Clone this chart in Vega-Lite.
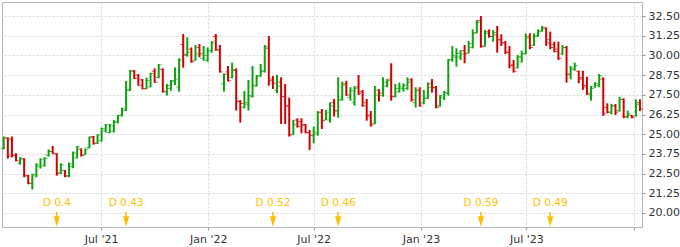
{
  "$schema": "https://vega.github.io/schema/vega-lite/v6.json",
  "width": 640,
  "height": 225,
  "autosize": {"type": "none"},
  "padding": {"left": 2, "top": 2, "right": 38, "bottom": 20},
  "background": "white",
  "config": {
    "font": "DejaVu Sans",
    "view": {"stroke": "#b4b4b4", "strokeWidth": 1},
    "axis": {
      "labelFont": "DejaVu Sans",
      "labelFontSize": 11,
      "labelColor": "#333333",
      "gridColor": "#d6d6d6",
      "gridDash": [2, 2],
      "domain": false,
      "tickColor": "#9a9a9a",
      "tickSize": 3,
      "title": null,
      "labelOverlap": false
    }
  },
  "datasets": {
    "ohlc": [
      {"d":"2021-01-15","o":24.1,"h":24.85,"l":24.04,"c":24.8},
      {"d":"2021-01-22","o":24.75,"h":24.8,"l":23.45,"c":23.6},
      {"d":"2021-01-29","o":24.7,"h":24.85,"l":23.54,"c":23.65},
      {"d":"2021-02-05","o":23.68,"h":23.79,"l":23.28,"c":23.32},
      {"d":"2021-02-12","o":23.15,"h":23.54,"l":23.07,"c":23.45},
      {"d":"2021-02-19","o":23.43,"h":23.47,"l":22.27,"c":22.35},
      {"d":"2021-02-26","o":22.37,"h":22.42,"l":21.82,"c":21.89},
      {"d":"2021-03-05","o":21.89,"h":22.48,"l":21.49,"c":22.46},
      {"d":"2021-03-12","o":22.35,"h":23.16,"l":22.27,"c":23.05},
      {"d":"2021-03-19","o":22.94,"h":23.47,"l":22.82,"c":23.41},
      {"d":"2021-03-26","o":23.0,"h":23.54,"l":22.94,"c":23.47},
      {"d":"2021-04-02","o":23.66,"h":24.04,"l":23.58,"c":23.9},
      {"d":"2021-04-09","o":23.9,"h":24.25,"l":23.75,"c":23.79},
      {"d":"2021-04-16","o":23.75,"h":23.79,"l":22.37,"c":22.52},
      {"d":"2021-04-23","o":22.55,"h":23.16,"l":22.48,"c":23.05},
      {"d":"2021-04-30","o":22.7,"h":22.73,"l":22.27,"c":22.35},
      {"d":"2021-05-07","o":22.35,"h":23.2,"l":22.27,"c":23.1},
      {"d":"2021-05-14","o":22.95,"h":23.9,"l":22.84,"c":23.8},
      {"d":"2021-05-21","o":23.5,"h":24.25,"l":23.47,"c":24.2},
      {"d":"2021-05-28","o":24.05,"h":24.1,"l":23.58,"c":23.65},
      {"d":"2021-06-04","o":23.7,"h":24.1,"l":23.68,"c":24.05},
      {"d":"2021-06-11","o":24.15,"h":24.85,"l":24.1,"c":24.8},
      {"d":"2021-06-18","o":24.85,"h":24.89,"l":24.34,"c":24.4},
      {"d":"2021-06-25","o":24.45,"h":24.99,"l":24.38,"c":24.95},
      {"d":"2021-07-02","o":24.6,"h":25.42,"l":24.53,"c":25.35},
      {"d":"2021-07-09","o":25.2,"h":25.65,"l":25.12,"c":25.6},
      {"d":"2021-07-16","o":25.1,"h":25.65,"l":25.06,"c":25.55},
      {"d":"2021-07-23","o":25.2,"h":25.9,"l":25.1,"c":25.8},
      {"d":"2021-07-30","o":25.75,"h":26.22,"l":25.69,"c":26.2},
      {"d":"2021-08-06","o":26.2,"h":26.69,"l":26.12,"c":26.6},
      {"d":"2021-08-13","o":26.5,"h":28.38,"l":26.47,"c":27.8},
      {"d":"2021-08-20","o":27.8,"h":29.08,"l":27.74,"c":29.0},
      {"d":"2021-08-27","o":29.0,"h":29.08,"l":28.5,"c":28.55},
      {"d":"2021-09-03","o":28.75,"h":28.82,"l":28.08,"c":28.1},
      {"d":"2021-09-10","o":28.45,"h":28.5,"l":27.85,"c":27.88},
      {"d":"2021-09-17","o":27.9,"h":28.59,"l":27.85,"c":28.4},
      {"d":"2021-09-24","o":28.0,"h":28.9,"l":27.98,"c":28.85},
      {"d":"2021-10-01","o":29.0,"h":29.18,"l":28.27,"c":28.3},
      {"d":"2021-10-08","o":28.6,"h":29.46,"l":28.55,"c":29.4},
      {"d":"2021-10-15","o":29.1,"h":29.18,"l":27.64,"c":27.7},
      {"d":"2021-10-22","o":27.7,"h":28.19,"l":27.45,"c":28.1},
      {"d":"2021-10-29","o":27.9,"h":28.44,"l":27.76,"c":28.4},
      {"d":"2021-11-05","o":28.35,"h":29.24,"l":28.12,"c":28.5},
      {"d":"2021-11-12","o":28.0,"h":29.82,"l":27.7,"c":29.7},
      {"d":"2021-11-19","o":30.7,"h":31.36,"l":29.22,"c":30.07},
      {"d":"2021-11-26","o":30.0,"h":31.15,"l":29.92,"c":30.2},
      {"d":"2021-12-03","o":30.4,"h":30.51,"l":29.54,"c":29.6},
      {"d":"2021-12-10","o":29.7,"h":30.66,"l":29.67,"c":30.1},
      {"d":"2021-12-17","o":30.5,"h":30.72,"l":29.88,"c":30.1},
      {"d":"2021-12-24","o":29.8,"h":30.6,"l":29.67,"c":30.0},
      {"d":"2021-12-31","o":29.7,"h":30.51,"l":29.6,"c":30.3},
      {"d":"2022-01-07","o":30.3,"h":30.91,"l":30.17,"c":30.8},
      {"d":"2022-01-14","o":31.2,"h":31.36,"l":30.3,"c":30.35},
      {"d":"2022-01-21","o":30.35,"h":30.66,"l":28.91,"c":28.95},
      {"d":"2022-01-28","o":28.2,"h":28.86,"l":27.7,"c":28.8},
      {"d":"2022-02-04","o":28.95,"h":29.33,"l":28.34,"c":28.4},
      {"d":"2022-02-11","o":28.6,"h":29.54,"l":28.55,"c":29.1},
      {"d":"2022-02-18","o":29.05,"h":29.18,"l":26.5,"c":27.07},
      {"d":"2022-02-25","o":27.1,"h":27.17,"l":25.73,"c":26.95},
      {"d":"2022-03-04","o":26.7,"h":27.74,"l":26.64,"c":27.0},
      {"d":"2022-03-11","o":26.9,"h":28.44,"l":26.5,"c":27.45},
      {"d":"2022-03-18","o":27.4,"h":29.33,"l":27.32,"c":28.12},
      {"d":"2022-03-25","o":28.05,"h":28.76,"l":28.02,"c":28.7},
      {"d":"2022-04-01","o":28.7,"h":29.46,"l":28.65,"c":29.01},
      {"d":"2022-04-08","o":29.0,"h":30.66,"l":28.91,"c":30.55},
      {"d":"2022-04-15","o":30.45,"h":31.23,"l":28.08,"c":28.4},
      {"d":"2022-04-22","o":28.5,"h":28.69,"l":27.87,"c":28.23},
      {"d":"2022-04-29","o":27.8,"h":28.76,"l":27.6,"c":28.05},
      {"d":"2022-05-06","o":28.3,"h":28.61,"l":25.65,"c":27.38},
      {"d":"2022-05-13","o":27.4,"h":28.19,"l":25.65,"c":26.79},
      {"d":"2022-05-20","o":26.8,"h":27.32,"l":24.85,"c":24.95},
      {"d":"2022-05-27","o":25.0,"h":25.9,"l":24.95,"c":25.6},
      {"d":"2022-06-03","o":25.9,"h":26.01,"l":25.42,"c":25.5},
      {"d":"2022-06-10","o":25.8,"h":26.01,"l":25.06,"c":25.59},
      {"d":"2022-06-17","o":25.6,"h":25.65,"l":25.06,"c":25.1},
      {"d":"2022-06-24","o":25.1,"h":25.27,"l":24.0,"c":24.95},
      {"d":"2022-07-01","o":24.9,"h":25.48,"l":24.42,"c":25.12},
      {"d":"2022-07-08","o":25.0,"h":26.47,"l":24.91,"c":26.37},
      {"d":"2022-07-15","o":26.4,"h":26.6,"l":25.33,"c":25.86},
      {"d":"2022-07-22","o":25.9,"h":26.54,"l":25.9,"c":26.4},
      {"d":"2022-07-29","o":25.9,"h":27.02,"l":25.73,"c":26.79},
      {"d":"2022-08-05","o":27.0,"h":27.24,"l":26.12,"c":26.47},
      {"d":"2022-08-12","o":26.5,"h":28.61,"l":26.05,"c":27.17},
      {"d":"2022-08-19","o":27.2,"h":28.34,"l":27.13,"c":28.12},
      {"d":"2022-08-26","o":28.2,"h":28.38,"l":27.43,"c":27.49},
      {"d":"2022-09-02","o":27.34,"h":27.98,"l":27.13,"c":27.76},
      {"d":"2022-09-09","o":27.0,"h":28.06,"l":26.81,"c":27.91},
      {"d":"2022-09-16","o":28.0,"h":28.76,"l":27.49,"c":27.6},
      {"d":"2022-09-23","o":27.7,"h":27.81,"l":26.75,"c":26.79},
      {"d":"2022-09-30","o":27.0,"h":27.24,"l":25.86,"c":26.16},
      {"d":"2022-10-07","o":26.2,"h":26.47,"l":25.48,"c":25.59},
      {"d":"2022-10-14","o":25.7,"h":28.06,"l":25.63,"c":27.49},
      {"d":"2022-10-21","o":27.8,"h":27.85,"l":27.07,"c":27.6},
      {"d":"2022-10-28","o":27.45,"h":28.61,"l":27.38,"c":28.3},
      {"d":"2022-11-04","o":28.05,"h":28.5,"l":27.98,"c":28.4},
      {"d":"2022-11-11","o":28.5,"h":29.5,"l":27.13,"c":27.38},
      {"d":"2022-11-18","o":27.4,"h":28.19,"l":27.34,"c":27.9},
      {"d":"2022-11-25","o":27.7,"h":28.27,"l":27.64,"c":28.0},
      {"d":"2022-12-02","o":27.9,"h":28.23,"l":27.7,"c":28.1},
      {"d":"2022-12-09","o":27.9,"h":28.61,"l":27.81,"c":28.3},
      {"d":"2022-12-16","o":28.45,"h":28.55,"l":27.07,"c":27.17},
      {"d":"2022-12-23","o":27.0,"h":27.98,"l":26.69,"c":27.76},
      {"d":"2022-12-30","o":27.8,"h":27.98,"l":26.75,"c":26.8},
      {"d":"2023-01-06","o":27.0,"h":27.81,"l":26.9,"c":27.28},
      {"d":"2023-01-13","o":27.3,"h":28.29,"l":27.24,"c":27.98},
      {"d":"2023-01-20","o":28.2,"h":28.5,"l":27.64,"c":27.95},
      {"d":"2023-01-27","o":27.95,"h":28.06,"l":26.64,"c":26.7},
      {"d":"2023-02-03","o":26.8,"h":27.49,"l":26.75,"c":27.43},
      {"d":"2023-02-10","o":27.3,"h":27.74,"l":27.17,"c":27.64},
      {"d":"2023-02-17","o":27.6,"h":29.77,"l":27.45,"c":29.7},
      {"d":"2023-02-24","o":29.75,"h":30.6,"l":29.6,"c":30.0},
      {"d":"2023-03-03","o":29.9,"h":30.45,"l":29.29,"c":30.13},
      {"d":"2023-03-10","o":29.9,"h":30.34,"l":29.71,"c":30.09},
      {"d":"2023-03-17","o":30.3,"h":30.66,"l":29.5,"c":30.1},
      {"d":"2023-03-24","o":30.15,"h":30.91,"l":30.13,"c":30.75},
      {"d":"2023-03-31","o":30.5,"h":31.65,"l":30.45,"c":31.4},
      {"d":"2023-04-07","o":31.45,"h":32.25,"l":31.4,"c":32.1},
      {"d":"2023-04-14","o":32.2,"h":32.5,"l":30.49,"c":30.56},
      {"d":"2023-04-21","o":30.6,"h":31.61,"l":30.56,"c":31.4},
      {"d":"2023-04-28","o":31.5,"h":31.65,"l":31.13,"c":31.2},
      {"d":"2023-05-05","o":31.2,"h":31.61,"l":30.87,"c":31.45},
      {"d":"2023-05-12","o":31.3,"h":31.87,"l":30.17,"c":30.98},
      {"d":"2023-05-19","o":31.0,"h":31.34,"l":30.6,"c":30.8},
      {"d":"2023-05-26","o":30.8,"h":30.91,"l":30.09,"c":30.2},
      {"d":"2023-06-02","o":30.2,"h":30.6,"l":29.18,"c":29.35},
      {"d":"2023-06-09","o":29.4,"h":29.71,"l":28.91,"c":29.0},
      {"d":"2023-06-16","o":29.2,"h":30.03,"l":29.18,"c":29.9},
      {"d":"2023-06-23","o":29.9,"h":30.3,"l":29.54,"c":30.1},
      {"d":"2023-06-30","o":30.1,"h":31.4,"l":30.07,"c":31.1},
      {"d":"2023-07-07","o":31.2,"h":31.4,"l":30.39,"c":30.5},
      {"d":"2023-07-14","o":30.65,"h":31.4,"l":30.6,"c":31.2},
      {"d":"2023-07-21","o":31.25,"h":31.65,"l":31.19,"c":31.5},
      {"d":"2023-07-28","o":31.55,"h":31.87,"l":31.51,"c":31.8},
      {"d":"2023-08-04","o":31.7,"h":31.78,"l":30.6,"c":30.8},
      {"d":"2023-08-11","o":31.0,"h":31.51,"l":30.39,"c":30.5},
      {"d":"2023-08-18","o":30.7,"h":30.87,"l":30.2,"c":30.25},
      {"d":"2023-08-25","o":30.4,"h":30.87,"l":29.71,"c":29.8},
      {"d":"2023-09-01","o":30.1,"h":30.66,"l":30.03,"c":30.5},
      {"d":"2023-09-08","o":30.5,"h":30.6,"l":28.27,"c":28.8},
      {"d":"2023-09-15","o":28.8,"h":29.33,"l":28.48,"c":29.2},
      {"d":"2023-09-22","o":29.1,"h":29.54,"l":29.03,"c":29.35},
      {"d":"2023-09-29","o":29.0,"h":29.03,"l":28.23,"c":28.5},
      {"d":"2023-10-06","o":28.6,"h":29.03,"l":27.81,"c":28.0},
      {"d":"2023-10-13","o":28.1,"h":28.65,"l":27.49,"c":27.6},
      {"d":"2023-10-20","o":27.5,"h":28.06,"l":27.13,"c":27.9},
      {"d":"2023-10-27","o":28.0,"h":28.3,"l":27.95,"c":28.2},
      {"d":"2023-11-03","o":28.1,"h":28.82,"l":27.98,"c":28.7},
      {"d":"2023-11-10","o":28.5,"h":28.61,"l":26.16,"c":26.3},
      {"d":"2023-11-17","o":26.7,"h":26.96,"l":26.33,"c":26.4},
      {"d":"2023-11-24","o":26.4,"h":26.92,"l":26.26,"c":26.8},
      {"d":"2023-12-01","o":26.8,"h":26.92,"l":26.22,"c":26.4},
      {"d":"2023-12-08","o":26.5,"h":27.38,"l":26.43,"c":27.2},
      {"d":"2023-12-15","o":27.2,"h":27.28,"l":26.01,"c":26.1},
      {"d":"2023-12-22","o":26.1,"h":26.5,"l":26.01,"c":26.3},
      {"d":"2023-12-29","o":26.2,"h":26.22,"l":26.01,"c":26.05},
      {"d":"2024-01-05","o":26.15,"h":27.21,"l":26.12,"c":26.9},
      {"d":"2024-01-12","o":27.0,"h":27.21,"l":26.47,"c":26.6}
    ],
    "div": [
      {"d":"2021-04-16","label":"D 0.4"},
      {"d":"2021-08-13","label":"D 0.43"},
      {"d":"2022-04-22","label":"D 0.52"},
      {"d":"2022-08-12","label":"D 0.46"},
      {"d":"2023-04-14","label":"D 0.59"},
      {"d":"2023-08-11","label":"D 0.49"}
    ]
  },
  "layer": [
    {
      "data": {"name": "ohlc"},
      "mark": {"type": "rule", "strokeWidth": 2},
      "encoding": {
        "x": {
          "field": "d", "type": "temporal",
          "scale": {"type": "utc", "domain": [{"year": 2021, "month": 1, "date": 12, "utc": true}, {"year": 2024, "month": 1, "date": 15, "hours": 12, "utc": true}]},
          "axis": {
            "title": null,
            "grid": true,
            "values": [
              {"year": 2021, "month": 7, "date": 1, "utc": true},
              {"year": 2022, "month": 1, "date": 1, "utc": true},
              {"year": 2022, "month": 7, "date": 1, "utc": true},
              {"year": 2023, "month": 1, "date": 1, "utc": true},
              {"year": 2023, "month": 7, "date": 1, "utc": true},
              {"year": 2024, "month": 1, "date": 1, "utc": true}
            ],
            "labelExpr": "utcyear(datum.value) >= 2024 ? '' : utcFormat(datum.value, \"%b '%y\")",
            "labelPadding": 3,
            "labelOverlap": false
          }
        },
        "y": {
          "field": "l", "type": "quantitative",
          "scale": {"domain": [19.11, 33.39], "nice": false, "zero": false},
          "axis": {
            "title": null,
            "orient": "right",
            "grid": true,
            "values": [20, 21.25, 22.5, 23.75, 25, 26.25, 27.5, 28.75, 30, 31.25, 32.5],
            "format": ".2f",
            "labelPadding": 3,
            "labelOverlap": false,
            "labelFlush": false
          }
        },
        "y2": {"field": "h"},
        "color": {"condition": {"test": "datum.c >= datum.o", "value": "#0ea30e"}, "value": "#d40000"}
      }
    },
    {
      "data": {"name": "ohlc"},
      "mark": {"type": "tick", "orient": "horizontal", "size": 3, "thickness": 1, "xOffset": -1.5},
      "encoding": {
        "x": {"field": "d", "type": "temporal"},
        "y": {"field": "o", "type": "quantitative",
          "axis": {"title": null, "orient": "right", "grid": true, "values": [20, 21.25, 22.5, 23.75, 25, 26.25, 27.5, 28.75, 30, 31.25, 32.5], "format": ".2f", "labelPadding": 3, "labelOverlap": false, "labelFlush": false}},
        "color": {"condition": {"test": "datum.c >= datum.o", "value": "#0ea30e"}, "value": "#d40000"}
      }
    },
    {
      "data": {"name": "ohlc"},
      "mark": {"type": "tick", "orient": "horizontal", "size": 3, "thickness": 1, "xOffset": 1.5},
      "encoding": {
        "x": {"field": "d", "type": "temporal"},
        "y": {"field": "c", "type": "quantitative",
          "axis": {"title": null, "orient": "right", "grid": true, "values": [20, 21.25, 22.5, 23.75, 25, 26.25, 27.5, 28.75, 30, 31.25, 32.5], "format": ".2f", "labelPadding": 3, "labelOverlap": false, "labelFlush": false}},
        "color": {"condition": {"test": "datum.c >= datum.o", "value": "#0ea30e"}, "value": "#d40000"}
      }
    },
    {
      "data": {"name": "div"},
      "mark": {"type": "rule", "color": "#fbbf00", "strokeWidth": 1.5},
      "encoding": {
        "x": {"field": "d", "type": "temporal"},
        "y": {"datum": 20.06, "type": "quantitative",
          "axis": {"title": null, "orient": "right", "grid": true, "values": [20, 21.25, 22.5, 23.75, 25, 26.25, 27.5, 28.75, 30, 31.25, 32.5], "format": ".2f", "labelPadding": 3, "labelOverlap": false, "labelFlush": false}},
        "y2": {"datum": 19.46}
      }
    },
    {
      "data": {"name": "div"},
      "mark": {"type": "point", "shape": "M-0.6,-1L0.6,-1L0,1Z", "filled": true, "size": 110, "color": "#fbbf00", "opacity": 1, "strokeWidth": 0},
      "encoding": {
        "x": {"field": "d", "type": "temporal"},
        "y": {"datum": 19.46, "type": "quantitative",
          "axis": {"title": null, "orient": "right", "grid": true, "values": [20, 21.25, 22.5, 23.75, 25, 26.25, 27.5, 28.75, 30, 31.25, 32.5], "format": ".2f", "labelPadding": 3, "labelOverlap": false, "labelFlush": false}}
      }
    },
    {
      "data": {"name": "div"},
      "mark": {"type": "text", "color": "#fbbf00", "fontSize": 10.5, "font": "DejaVu Sans", "align": "center", "baseline": "middle"},
      "encoding": {
        "x": {"field": "d", "type": "temporal"},
        "y": {"datum": 20.63, "type": "quantitative",
          "axis": {"title": null, "orient": "right", "grid": true, "values": [20, 21.25, 22.5, 23.75, 25, 26.25, 27.5, 28.75, 30, 31.25, 32.5], "format": ".2f", "labelPadding": 3, "labelOverlap": false, "labelFlush": false}},
        "text": {"field": "label"}
      }
    }
  ]
}
